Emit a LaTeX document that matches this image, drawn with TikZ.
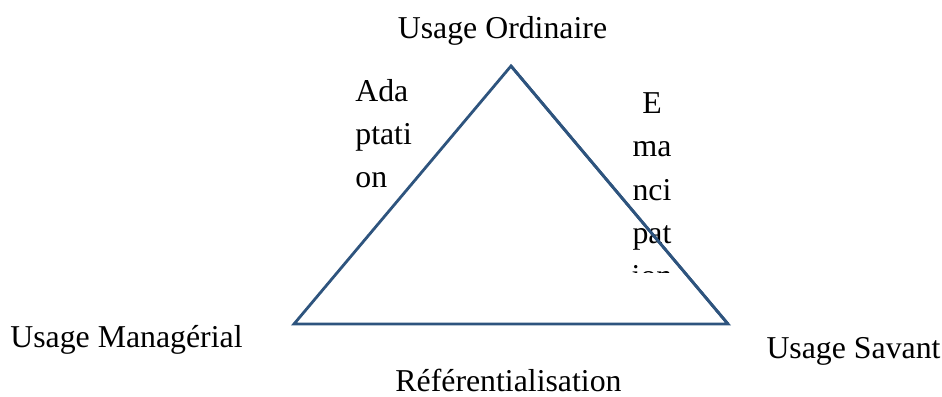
\documentclass[tikz,border=0pt]{standalone}
\usepackage{fontspec}
\setmainfont{Liberation Serif}
\usepackage{tikz}
\definecolor{edgeblue}{RGB}{46,84,126}

\begin{document}
\begin{tikzpicture}[x=0.02cm, y=-0.02cm, every node/.style={inner sep=0pt, font=\fontsize{18.1}{24.6}\selectfont}]
	\useasboundingbox (0,0) rectangle (942,396);
	\coordinate (ord) at (511,66);
	\coordinate (man) at (294,324);
	\coordinate (sav) at (728,324);
	\draw[edgeblue, line width=1.6pt, line join=miter] (ord) -- (sav) -- (man) -- cycle;
	\node[anchor=base] (lord) at (502.5,38) {Usage Ordinaire};
	\node[anchor=base] (lman) at (126.5,347) {Usage Managérial};
	\node[anchor=base] (lsav) at (853.5,358) {Usage Savant};
	\node[anchor=base] (lref) at (508.5,391) {Référentialisation};
	\node[anchor=north west, align=left] (adapt) at (355,79) {Ada\\ptati\\on};
	\begin{scope}
		\clip (600,60) rectangle (720,272);
		\node[anchor=north, align=center] (eman) at (652,92.5) {E\\ma\\nci\\pat\\ion};
	\end{scope}
	\draw[edgeblue, line width=1.6pt] (ord) -- (sav);
\end{tikzpicture}
\end{document}
